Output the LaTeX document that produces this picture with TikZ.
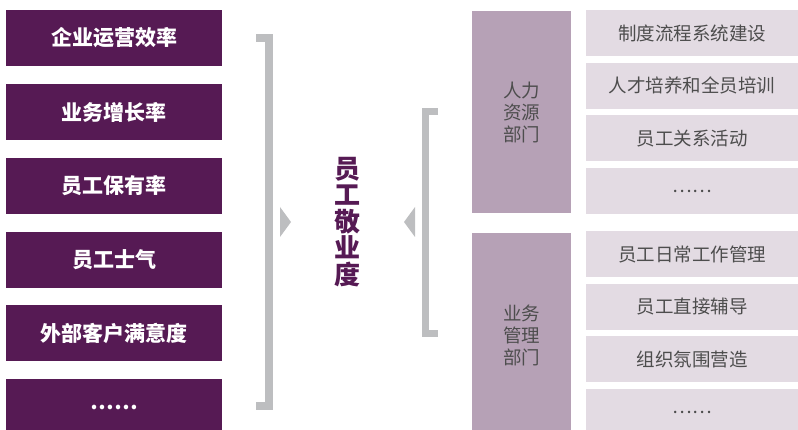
\documentclass[tikz,border=0pt]{standalone}
\usepackage{fontspec}
\setmainfont{Noto Sans CJK SC}
\definecolor{deep}{HTML}{561A54}
\definecolor{dept}{HTML}{B6A1B6}
\definecolor{item}{HTML}{E3DBE3}
\definecolor{brk}{HTML}{BDBEC0}
\definecolor{itemtxt}{HTML}{4D4D4D}
\tikzset{
  kpi/.style={fill=deep, minimum width=216pt, minimum height=56pt, inner sep=0pt,
    text=white, font=\fontsize{21}{23}\selectfont\bfseries},
  deptbox/.style={fill=dept, minimum width=99pt, inner sep=0pt, text=itemtxt,
    align=center, font=\fontsize{18.5}{22}\selectfont},
  itembox/.style={fill=item, minimum width=212pt, minimum height=46pt, inner sep=0pt,
    text=itemtxt, font=\fontsize{18.5}{20}\selectfont},
  brack/.style={draw=brk, line width=8pt, miter limit=10},
  tri/.style={fill=brk}
}
\begin{document}
\begin{tikzpicture}[x=1pt,y=-1pt]
\useasboundingbox (0,0) rectangle (798,430);
% left KPI boxes
\node[kpi] (k1) at (114,38) {企业运营效率};
\node[kpi] (k2) at (114,112) {业务增长率};
\node[kpi] (k3) at (114,186) {员工保有率};
\node[kpi] (k4) at (114,260) {员工士气};
\node[kpi] (k5) at (114,333) {外部客户满意度};
\node[kpi] (k6) at (114,407) {……};
% left bracket and triangle
\draw[brack] (256,38) -- (269,38) -- (269,406) -- (256,406);
\fill[tri] (280,207) -- (280,237) -- (291,222) -- cycle;
% center title
\node[text=deep, align=center, inner sep=0pt,
  font=\fontsize{26}{26.5}\selectfont\bfseries] (title) at (347,222) {员\\工\\敬\\业\\度};
% right bracket and triangle
\draw[brack, line width=7.5pt] (438,111.5) -- (425.5,111.5) -- (425.5,333.5) -- (438,333.5);
\fill[tri] (415,207) -- (415,237) -- (404,222) -- cycle;
% departments
\node[deptbox, minimum height=202pt] (hr) at (521.5,112) {人力\\资源\\部门};
\node[deptbox, minimum height=204pt] (biz) at (521.5,335) {业务\\管理\\部门};
% items
\node[itembox] (i1) at (692,33) {制度流程系统建设};
\node[itembox] (i2) at (692,85.7) {人才培养和全员培训};
\node[itembox] (i3) at (692,138.4) {员工关系活动};
\node[itembox] (i4) at (692,191.1) {……};
\node[itembox] (i5) at (692,254) {员工日常工作管理};
\node[itembox] (i6) at (692,306.7) {员工直接辅导};
\node[itembox] (i7) at (692,359.4) {组织氛围营造};
\node[itembox] (i8) at (692,412.1) {……};
\end{tikzpicture}
\end{document}
